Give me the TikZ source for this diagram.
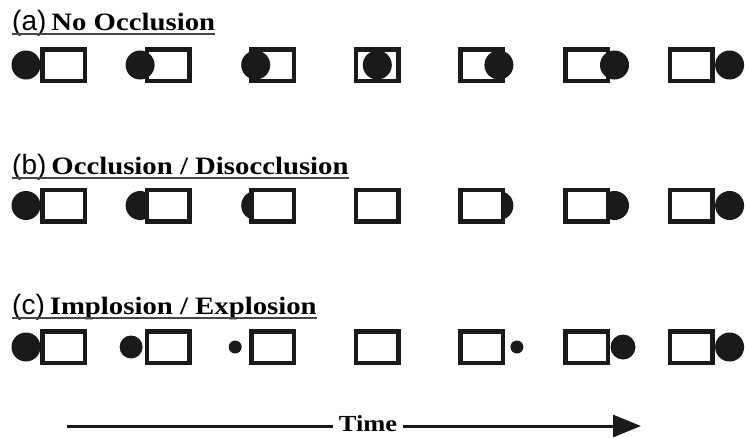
\documentclass[tikz,border=0pt]{standalone}
\usepackage{fontspec}
\usepackage{xcolor}
\usepackage{tikz}
\usetikzlibrary{
arrows.meta,
positioning,
calc
}
\newfontfamily\labelfont[FakeStretch=1.15]{Liberation Serif}
\newfontfamily\tagfont{Liberation Sans}
\definecolor{inkgray}{HTML}{1A1A1A}

\begin{document}
\begin{tikzpicture}[
x=1pt,y=-1pt,
screen/.style={
draw=inkgray,
fill=white,
line width=4.5pt,
minimum width=42.5pt,
minimum height=31.5pt,
inner sep=0pt
},
blob/.style={
circle,
fill=inkgray,
inner sep=0pt,
minimum size=#1
},
heading/.style={
anchor=base west,
inner sep=0pt,
font=\labelfont\bfseries\fontsize{25}{28}\selectfont
},
axis/.style={line width=3pt,draw=inkgray}
]

\useasboundingbox (0,0) rectangle (745,437);

% titles
\node[heading] (ta) at (12,30) {{\tagfont\mdseries\fontsize{28}{30}\selectfont(a)}\hspace{5pt}No Occlusion};
\node[heading] (tb) at (12,174) {{\tagfont\mdseries\fontsize{28}{30}\selectfont(b)}\hspace{5pt}Occlusion / Disocclusion};
\node[heading] (tc) at (12,314) {{\tagfont\mdseries\fontsize{28}{30}\selectfont(c)}\hspace{5pt}Implosion / Explosion};
\foreach \t in {ta,tb,tc}
  \draw[line width=1.3pt,draw=inkgray!80] ($(\t.base west)+(0,4)$) -- ($(\t.base east)+(0,4)$);

% (a) no occlusion: disc passes in front
\foreach \k/\dx in {1/-37.5,2/-28,3/-17,4/0,5/17,6/28,7/38.5} {
  \node[screen] (ra\k) at ({63.5+104.6*(\k-1)},65) {};
  \node[blob=29pt] (da\k) at ($(ra\k.center)+(\dx,0)$) {};
}

% (b) occlusion: disc passes behind
\foreach \k/\dx in {1/-37.5,2/-28,3/-17,4/0,5/17,6/28,7/38.5} {
  \coordinate (cb\k) at ({63.5+104.6*(\k-1)},205.5);
  \node[blob=29pt] (db\k) at ($(cb\k)+(\dx,0)$) {};
  \node[screen] (rb\k) at (cb\k) {};
}

% (c) implosion / explosion: disc shrinks and grows
\foreach \k in {1,...,7}
  \node[screen] (rc\k) at ({63.5+104.6*(\k-1)},347) {};
\node[blob=29pt] (dc1) at ($(rc1.center)+(-37.5,0)$) {};
\node[blob=23pt] (dc2) at ($(rc2.center)+(-37,0)$) {};
\node[blob=13pt] (dc3) at ($(rc3.center)+(-37.5,0)$) {};
\node[blob=13pt] (dc5) at ($(rc5.center)+(35,0)$) {};
\node[blob=25pt] (dc6) at ($(rc6.center)+(36.5,0)$) {};
\node[blob=29pt] (dc7) at ($(rc7.center)+(38.5,0)$) {};

% time axis
\coordinate (t0) at (67,426);
\coordinate (t1) at (641,426);
\node[font=\labelfont\bfseries\fontsize{23}{26}\selectfont,inner sep=6pt] (time) at (368,424) {Time};
\draw[axis] (t0) -- (t0 -| time.west);
\draw[axis,-{Triangle[length=28pt,width=22pt]}] (t0 -| time.east) -- (t1);

\end{tikzpicture}
\end{document}
